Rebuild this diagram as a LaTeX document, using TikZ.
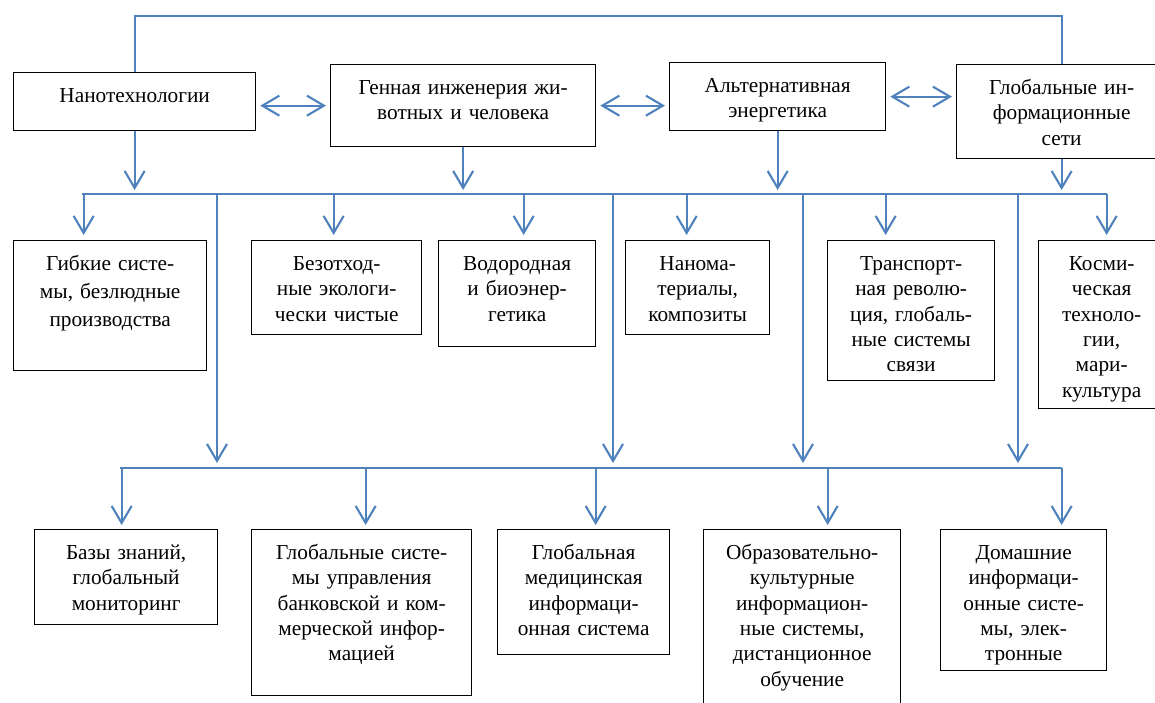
\documentclass[tikz,border=0pt]{standalone}
\usepackage{fontspec}
\setmainfont{Liberation Serif}
\usepackage{tikz}
\usetikzlibrary{arrows.meta}
\usetikzlibrary{calc}
\definecolor{lnblue}{RGB}{79,129,189}
\tikzset{
  bx/.style={draw,line width=1.3pt,anchor=north west,inner sep=0pt,align=center,text height=30pt,font=\fontsize{21.3}{25.3}\selectfont},
  ln/.style={lnblue,line width=2.1pt},
  ar/.style={ln,-{Straight Barb[length=17pt,width=20pt]},shorten >=5pt},
  da/.style={ln,{Straight Barb[length=17pt,width=20pt]}-{Straight Barb[length=17pt,width=20pt]},shorten >=4pt,shorten <=4pt}
}

\begin{document}
\begin{tikzpicture}[x=1pt,y=-1pt]
    \useasboundingbox (0,0) rectangle (1155,702);
    % top row
    \node[bx,text width=242pt,text depth=28pt] (nano) at (13,72) {Нанотехнологии};
    \node[bx,text width=265pt,text depth=52pt] (gene) at (330,64) {Генная инженерия жи-\\вотных и человека};
    \node[bx,text width=216pt,text depth=38pt] (alt) at (669,62) {Альтернативная\\энергетика};
    \node[bx,text width=210pt,text depth=64pt] (glob) at (956,64) {Глобальные ин-\\формационные\\сети};
    % middle row
    \node[bx,text width=193pt,text depth=100pt,font=\fontsize{21.3}{28}\selectfont] (gib) at (13,240) {Гибкие систе-\\мы, безлюдные\\производства};
    \node[bx,text width=170pt,text depth=64pt] (bez) at (251,240) {Безотход-\\ные экологи-\\чески чистые};
    \node[bx,text width=157pt,text depth=76pt] (vod) at (438,240) {Водородная\\и биоэнер-\\гетика};
    \node[bx,text width=144pt,text depth=64pt] (nm) at (625,240) {Нанома-\\териалы,\\композиты};
    \node[bx,text width=167pt,text depth=110pt] (tr) at (827,240) {Транспорт-\\ная револю-\\ция, глобаль-\\ные системы\\связи};
    \node[bx,text width=126pt,text depth=138pt] (ko) at (1038,240) {Косми-\\ческая\\техноло-\\гии,\\мари-\\культура};
    % bottom row
    \node[bx,text width=183pt,text depth=65pt] (baz) at (34,529) {Базы знаний,\\глобальный\\мониторинг};
    \node[bx,text width=220pt,text depth=136pt] (gsu) at (251,529) {Глобальные систе-\\мы управления\\банковской и ком-\\мерческой инфор-\\мацией};
    \node[bx,text width=172pt,text depth=95pt] (med) at (497,529) {Глобальная\\медицинская\\информаци-\\онная система};
    \node[bx,text width=197pt,text depth=153pt] (obr) at (703,529) {Образовательно-\\культурные\\информацион-\\ные системы,\\дистанционное\\обучение};
    \node[bx,text width=166pt,text depth=111pt] (dom) at (940,529) {Домашние\\информаци-\\онные систе-\\мы, элек-\\тронные};

    \coordinate (top) at (0,16);
    \coordinate (ub1) at (83,194);
    \coordinate (ub2) at (1106,194);
    \coordinate (lb1) at (121,468);
    \coordinate (lb2) at (1061,468);

    \draw[ln] (nano.north) -- (nano.north |- top) -| (glob.north);
    \draw[da] (nano.east |- gene.west) -- (gene.west);
    \draw[da] (gene.east) -- (gene.east -| alt.west);
    \draw[da] (alt.east) -- (alt.east -| glob.west);

    \draw[ar,shorten >=4pt] (nano.south) -- (nano.south |- ub1);
    \draw[ar,shorten >=4pt] (gene.south) -- (gene.south |- ub1);
    \draw[ar,shorten >=4pt] (alt.south) -- (alt.south |- ub1);
    \draw[ar,shorten >=4pt] (glob.south) -- (glob.south |- ub1);

    \draw[ln,line cap=rect] (ub1) -- (ub2);
    \draw[ar] ($(gib.north |- ub1)+(-26.5,0)$) -- ($(gib.north)+(-26.5,0)$);
    \draw[ar] ($(bez.north |- ub1)+(-3,0)$) -- ($(bez.north)+(-3,0)$);
    \draw[ar] ($(vod.north |- ub1)+(6.5,0)$) -- ($(vod.north)+(6.5,0)$);
    \draw[ar] ($(nm.north |- ub1)+(-11,0)$) -- ($(nm.north)+(-11,0)$);
    \draw[ar] ($(tr.north |- ub1)+(-25.5,0)$) -- ($(tr.north)+(-25.5,0)$);
    \draw[ar] ($(ko.north |- ub1)+(5,0)$) -- ($(ko.north)+(5,0)$);

    % verticals to the lower bus
    \coordinate (v1) at (217,194);
    \coordinate (v2) at (613,194);
    \coordinate (v3) at (803,194);
    \coordinate (v4) at (1018,194);
    \draw[ar] (v1) -- (v1 |- lb1);
    \draw[ar] (v2) -- (v2 |- lb1);
    \draw[ar] (v3) -- (v3 |- lb1);
    \draw[ar] (v4) -- (v4 |- lb1);

    \draw[ln,line cap=rect] (lb1) -- (lb2);
    \draw[ar,shorten >=4pt] ($(baz.north |- lb1)+(-4.5,0)$) -- ($(baz.north)+(-4.5,0)$);
    \draw[ar,shorten >=4pt] ($(gsu.north |- lb1)+(4,0)$) -- ($(gsu.north)+(4,0)$);
    \draw[ar,shorten >=4pt] ($(med.north |- lb1)+(12,0)$) -- ($(med.north)+(12,0)$);
    \draw[ar,shorten >=4pt] ($(obr.north |- lb1)+(25.5,0)$) -- ($(obr.north)+(25.5,0)$);
    \draw[ar,shorten >=4pt] ($(dom.north |- lb1)+(38,0)$) -- ($(dom.north)+(38,0)$);
\end{tikzpicture}
\end{document}
